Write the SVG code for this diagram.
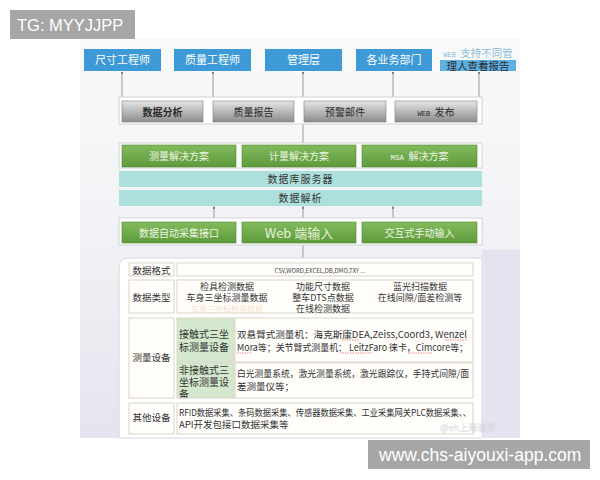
<svg xmlns="http://www.w3.org/2000/svg" width="600" height="480" viewBox="0 0 600 480">
<defs>
<linearGradient id="bg" x1="0" y1="0" x2="0" y2="1">
<stop offset="0" stop-color="#f8fafa"/>
<stop offset="0.5" stop-color="#f1f2f5"/>
<stop offset="1" stop-color="#e4e4ee"/>
</linearGradient>
<linearGradient id="gray" x1="0" y1="0" x2="0" y2="1">
<stop offset="0" stop-color="#e6e6e6"/>
<stop offset="0.5" stop-color="#b8b8b8"/>
<stop offset="1" stop-color="#8c8c8c"/>
</linearGradient>
<linearGradient id="green" x1="0" y1="0" x2="0" y2="1">
<stop offset="0" stop-color="#82bb5c"/>
<stop offset="1" stop-color="#5e9a3c"/>
</linearGradient>
<clipPath id="clipNc"><rect x="177" y="363" width="57" height="35"/></clipPath>
<style>
.t{font-family:"Noto Sans CJK SC","Liberation Sans",sans-serif;text-anchor:middle}
.l{font-family:"Noto Sans CJK SC","Liberation Sans",sans-serif}
.blue{fill:#3d9ad6}
.wt{fill:#ffffff;font-size:11px}
.gbox{fill:url(#gray);stroke:#7c7c7c;stroke-width:0.6}
.gt{fill:#2a2a2a;font-size:10px}
.grn{fill:url(#green);stroke:#4f8a30;stroke-width:0.6}
.gnt{fill:#eef6e6;font-size:10px}
.panel{fill:#ffffff;stroke:#cfd2d4;stroke-width:1}
.teal{fill:#ade0dc}
.tt{fill:#333;font-size:10px;letter-spacing:1px}
.conn line{stroke:#9a9a9a;stroke-width:1}
.conn circle{fill:#6a6a6a}
.cell{fill:#fffefb;stroke:#d9d4c6;stroke-width:1}
.gcell{fill:#d3e8cc;stroke:#d9d4c6;stroke-width:1}
.ct{fill:#333;font-size:9.5px}
.dt{fill:#333;font-size:9px}
.sq{stroke:#e04040;stroke-width:0.6;fill:none;stroke-dasharray:1.5 1}
.ov{fill:#a6a6a6}
.ovt{fill:#ffffff;font-family:"Liberation Sans",Arial,sans-serif}
</style>
</defs>

<rect x="0" y="0" width="600" height="480" fill="#ffffff"/>
<rect x="80" y="38" width="440" height="400" fill="url(#bg)"/>

<g id="connectors" class="conn">
<line x1="122" y1="72" x2="122" y2="97"/><circle cx="122" cy="73" r="1"/>
<line x1="213" y1="72" x2="213" y2="97"/><circle cx="213" cy="73" r="1"/>
<line x1="303" y1="72" x2="303" y2="97"/><circle cx="303" cy="73" r="1"/>
<line x1="393" y1="72" x2="393" y2="97"/><circle cx="393" cy="73" r="1"/>
<line x1="479" y1="72" x2="479" y2="97"/><circle cx="479" cy="73" r="1"/>
<line x1="303" y1="124" x2="303" y2="143"/>
<line x1="214" y1="206" x2="214" y2="218"/><circle cx="214" cy="208" r="1"/>
<line x1="303" y1="206" x2="303" y2="218"/><circle cx="303" cy="208" r="1"/>
<line x1="393" y1="206" x2="393" y2="218"/><circle cx="393" cy="208" r="1"/>
<line x1="303" y1="245" x2="303" y2="258"/>
</g>

<g id="n-size-eng"><rect class="blue" x="84" y="49" width="77" height="22"/><text class="t wt" x="122.5" y="64">尺寸工程师</text></g>
<g id="n-quality-eng"><rect class="blue" x="174" y="49" width="77" height="22"/><text class="t wt" x="212.5" y="64">质量工程师</text></g>
<g id="n-mgmt"><rect class="blue" x="265" y="49" width="77" height="22"/><text class="t wt" x="303.5" y="64">管理层</text></g>
<g id="n-depts"><rect class="blue" x="356" y="49" width="76" height="22"/><text class="t wt" x="394" y="64">各业务部门</text></g>
<g id="n-web-view"><rect x="440" y="60" width="76" height="11" fill="#5fb0e2"/>
<text class="t" x="478" y="57" font-size="10.5" fill="#8fbcd8"><tspan font-size="7" font-family="Liberation Mono,monospace">WEB </tspan>支持不同管</text>
<text class="t" x="478" y="69.5" font-size="10.5" fill="#2a2a2a">理人查看报告</text></g>

<g id="n-output-panel"><rect class="panel" x="119" y="97" width="363" height="27"/></g>
<g id="n-analysis"><rect class="gbox" x="122" y="101" width="81" height="21"/><text class="t gt" x="162.5" y="115.5" font-weight="bold">数据分析</text></g>
<g id="n-report"><rect class="gbox" x="213" y="101" width="81" height="21"/><text class="t gt" x="253.5" y="115.5">质量报告</text></g>
<g id="n-mail"><rect class="gbox" x="304" y="101" width="82" height="21"/><text class="t gt" x="345" y="115.5">预警邮件</text></g>
<g id="n-web-pub"><rect class="gbox" x="395" y="101" width="82" height="21"/><text class="t gt" x="436" y="115.5"><tspan font-size="7" font-family="Liberation Mono,monospace">WEB </tspan>发布</text></g>

<g id="n-solution-panel"><rect class="panel" x="119" y="143" width="363" height="25"/></g>
<g id="n-measure-sol"><rect class="grn" x="122" y="145" width="114" height="22"/><text class="t gnt" x="179" y="160">测量解决方案</text></g>
<g id="n-metro-sol"><rect class="grn" x="242" y="145" width="114" height="22"/><text class="t gnt" x="299" y="160">计量解决方案</text></g>
<g id="n-msa-sol"><rect class="grn" x="362" y="145" width="115" height="22"/><text class="t gnt" x="419.5" y="160"><tspan font-size="7.5" font-family="Liberation Mono,monospace">MSA </tspan>解决方案</text></g>

<g id="n-db"><rect class="teal" x="119" y="171" width="363" height="16"/><text class="t tt" x="300.5" y="183">数据库服务器</text></g>
<g id="n-parse"><rect class="teal" x="119" y="190" width="363" height="16"/><text class="t tt" x="300.5" y="202">数据解析</text></g>

<g id="n-input-panel"><rect class="panel" x="119" y="218" width="363" height="27"/></g>
<g id="n-auto"><rect class="grn" x="122" y="222" width="114" height="21"/><text class="t gnt" x="179" y="236.5" font-size="9.5">数据自动采集接口</text></g>
<g id="n-webin"><rect class="grn" x="242" y="222" width="114" height="21"/><text class="t" x="299" y="237.5" font-size="13" fill="#e6f2dc" font-family="Liberation Serif,Noto Sans CJK SC,serif">Web 端输入</text></g>
<g id="n-manual"><rect class="grn" x="362" y="222" width="115" height="21"/><text class="t gnt" x="419.5" y="236.5" font-size="9.5">交互式手动输入</text></g>

<g id="n-table">
<path d="M129 258 H482 V438 H119 V268 Q119 258 129 258 Z" fill="#ffffff" stroke="#d4d6da"/>
<rect x="482" y="250" width="38" height="188" fill="#e4e3ef"/>
<rect class="cell" x="129" y="263" width="45" height="13"/><text class="t ct" x="151.5" y="273.5">数据格式</text>
<rect class="cell" x="177" y="263" width="296" height="13"/><text class="t" x="320" y="272.5" font-size="6" fill="#444" font-family="Liberation Sans,sans-serif">CSV,WORD,EXCEL,DB,DMO,TXY ...</text>

<rect class="cell" x="129" y="280" width="45" height="33"/><text class="t ct" x="151.5" y="301">数据类型</text>
<rect class="cell" x="177" y="280" width="296" height="33"/>
<text class="t dt" x="227" y="290">检具检测数据</text>
<text class="t dt" x="227" y="301">车身三坐标测量数据</text>
<text class="t" x="227" y="311.5" font-size="8" fill="#f5dfcc">车身三坐标检测数据</text>
<text class="t dt" x="323" y="290">功能尺寸数据</text>
<text class="t dt" x="323" y="301">整车DTS点数据</text>
<text class="t dt" x="323" y="312">在线检测数据</text>
<text class="t dt" x="420" y="290">蓝光扫描数据</text>
<text class="t dt" x="420" y="301">在线间隙/面差检测等</text>

<rect class="cell" x="129" y="318" width="45" height="80"/><text class="t ct" x="151.5" y="361">测量设备</text>
<rect class="gcell" x="177" y="318" width="57" height="44"/>
<text class="l" x="179" y="338" font-size="10" fill="#333">接触式三坐</text>
<text class="l" x="179" y="351" font-size="10" fill="#333">标测量设备</text>
<rect class="cell" x="235" y="318" width="238" height="44"/>
<text class="l ct" x="237" y="338" textLength="230" lengthAdjust="spacingAndGlyphs">双悬臂式测量机：海克斯康DEA,Zeiss,Coord3,  Wenzel</text>
<text class="l ct" x="237" y="351" textLength="231" lengthAdjust="spacingAndGlyphs">Mora等；关节臂式测量机： LeitzFaro  徕卡，Cimcore等；</text>
<path class="sq" d="M342 340 H358 M445 340 H467 M237 353 H252 M340 353 H372 M408 353 H433"/>
<rect class="gcell" x="177" y="363" width="57" height="35"/>
<g clip-path="url(#clipNc)">
<text class="l" x="179" y="374" font-size="10" fill="#333">非接触式三</text>
<text class="l" x="179" y="386" font-size="10" fill="#333">坐标测量设</text>
<text class="l" x="179" y="398" font-size="10" fill="#333">备</text>
</g>
<rect class="cell" x="235" y="363" width="238" height="35"/>
<text class="l ct" x="237" y="377" textLength="232" lengthAdjust="spacingAndGlyphs">白光测量系统，激光测量系统，激光跟踪仪，手持式间隙/面</text>
<text class="l ct" x="237" y="390">差测量仪等；</text>

<rect class="cell" x="129" y="403" width="45" height="31"/><text class="t ct" x="151.5" y="421">其他设备</text>
<rect class="cell" x="177" y="403" width="296" height="31"/>
<text class="l ct" x="179" y="416" textLength="292" lengthAdjust="spacingAndGlyphs">RFID数据采集、条码数据采集、传感器数据采集、工业采集网关PLC数据采集、、</text>
<text class="l ct" x="179" y="428">API开发包接口数据采集等</text>
<text class="l" x="440" y="431" font-size="9" fill="#ffffff" stroke="#c8c8d0" stroke-width="0.3" opacity="0.8">@eh上海信服</text>
</g>

<g id="overlay-tg"><rect class="ov" x="10" y="10" width="125" height="29"/><text class="ovt" x="17" y="30.5" font-size="16.5">TG: MYYJJPP</text></g>
<g id="overlay-url"><rect class="ov" x="368" y="440" width="222" height="29"/><text class="ovt" x="379" y="461" font-size="17.5">www.chs-aiyouxi-app.com</text></g>
</svg>
